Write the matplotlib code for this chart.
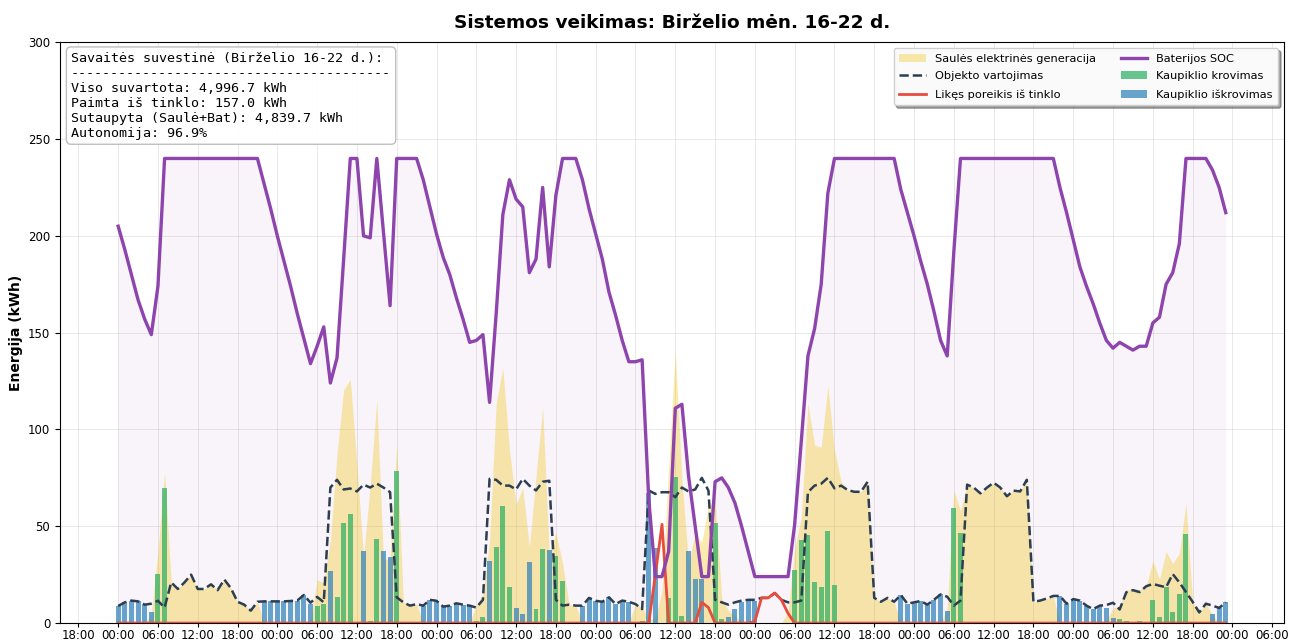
import numpy as np
import pandas as pd
import matplotlib
matplotlib.use("Agg")
import matplotlib.pyplot as plt
import matplotlib.dates as mdates
from matplotlib.patches import Patch
from matplotlib.lines import Line2D

# ---- hourly data, 16-22 June (168 hours) ----
times = pd.date_range("2025-06-16 00:00", periods=168, freq="h")

consumption = [
    # day 1
    8.8, 10.7, 11.6, 11.2, 9.5, 10.0, 11.5, 8.0, 21.0, 17.6, 21.0, 25.0,
    17.6, 17.6, 20.0, 17.0, 22.5, 18.0, 11.0, 9.5, 6.4, 11.0, 11.2, 11.2,
    # day 2
    11.2, 11.2, 11.4, 11.6, 14.5, 10.5, 13.5, 10.7, 70.0, 74.0, 69.0, 69.5,
    68.0, 71.5, 70.0, 72.0, 70.0, 67.6, 13.3, 10.7, 9.0, 9.8, 9.0, 12.0,
    # day 3
    11.5, 8.5, 9.0, 10.2, 9.5, 9.0, 8.0, 12.0, 74.5, 74.0, 71.0, 71.0,
    69.0, 74.5, 71.0, 68.5, 73.0, 73.5, 12.0, 9.0, 9.5, 9.0, 9.0, 13.0,
    # day 4
    11.5, 11.0, 13.3, 9.8, 11.6, 11.0, 9.8, 7.2, 68.5, 66.7, 67.6, 67.6,
    65.0, 70.0, 68.0, 69.0, 75.0, 68.4, 12.0, 10.7, 9.5, 10.7, 11.6, 12.0,
    # day 5
    12.0, 13.0, 13.0, 15.5, 12.0, 10.7, 10.7, 11.6, 67.6, 71.0, 72.0, 75.0,
    69.6, 71.0, 68.7, 67.8, 67.8, 73.0, 13.0, 11.0, 13.0, 11.0, 14.5, 10.0,
    # day 6
    10.7, 11.4, 9.5, 12.0, 14.8, 13.6, 9.0, 11.6, 71.5, 70.0, 67.0, 70.0,
    72.5, 70.0, 65.5, 68.4, 68.0, 74.0, 11.0, 11.6, 12.7, 14.0, 14.0, 10.0,
    # day 7
    12.4, 11.6, 9.0, 7.2, 9.0, 9.3, 10.5, 7.0, 15.9, 17.0, 16.0, 19.0,
    20.2, 19.3, 18.5, 25.3, 21.0, 16.0, 11.0, 5.5, 10.0, 9.0, 7.8, 10.7,
]

solar = [
    0, 0, 0, 0, 0, 4.5, 37.0, 78.0, 21.0, 17.6, 21.0, 25.0,
    17.6, 17.6, 20.0, 17.0, 22.5, 18.0, 11.0, 9.5, 6.4, 11.0, 0, 0,
    0, 0, 0, 0, 0, 0.7, 22.5, 20.7, 43.0, 87.3, 120.5, 125.9,
    82.0, 34.1, 71.2, 115.4, 32.6, 33.6, 92.1, 10.7, 9.0, 9.8, 0, 0,
    0, 0, 0, 0, 0, 0, 9.2, 15.0, 42.5, 113.5, 131.7, 89.4,
    61.4, 69.8, 39.3, 75.7, 111.3, 35.7, 46.8, 30.9, 9.5, 9.0, 0, 0,
    0, 0, 0, 0, 0, 0, 9.8, 8.2, 1.5, 2.7, 16.6, 80.6,
    140.6, 73.8, 31.0, 46.4, 41.7, 60.4, 63.5, 12.9, 6.5, 3.5, 0.9, 0.6,
    0, 0, 0, 0, 0, 5.7, 38.1, 54.6, 113.3, 92.0, 90.8, 122.4,
    89.4, 73.0, 68.7, 67.8, 67.8, 73.0, 13.0, 11.0, 13.0, 11.0, 0, 0,
    0, 0, 0, 0, 0, 7.6, 68.5, 58.0, 71.5, 70.0, 67.0, 70.0,
    72.5, 70.0, 65.5, 68.4, 68.0, 74.0, 11.0, 11.6, 12.7, 14.0, 0, 0,
    0, 0, 0, 0, 0, 1.3, 7.8, 9.0, 16.9, 17.8, 17.2, 19.0,
    32.1, 22.6, 36.9, 30.8, 36.0, 62.0, 11.0, 5.5, 10.0, 4.3, 0, 0,
]

charge = [
    0, 0, 0, 0, 0, 0, 25.5, 70.0, 0, 0, 0, 0,
    0, 0, 0, 0, 0, 0, 0, 0, 0, 0, 0, 0,
    0, 0, 0, 0, 0, 0, 9.0, 10.0, 0, 13.3, 51.5, 56.4,
    0, 0, 1.2, 43.4, 0, 0, 78.8, 0, 0, 0, 0, 0,
    0, 0, 0, 0, 0, 0, 1.2, 3.0, 0, 39.5, 60.7, 18.4,
    0, 0, 0, 7.2, 38.3, 0, 34.8, 21.9, 0, 0, 0, 0,
    0, 0, 0, 0, 0, 0, 0, 1.0, 0, 0, 0, 13.0,
    75.6, 3.8, 0, 0, 0, 0, 51.5, 2.2, 0, 0, 0, 0,
    0, 0, 0, 0, 0, 0, 27.4, 43.0, 45.7, 21.0, 18.8, 47.4,
    19.8, 0, 0, 0, 0, 0, 0, 0, 0, 0, 0, 0,
    0, 0, 0, 0, 0, 0, 59.5, 46.4, 0, 0, 0, 0,
    0, 0, 0, 0, 0, 0, 0, 0, 0, 0, 0, 0,
    0, 0, 0, 0, 0, 0, 0, 2.0, 1.0, 0.8, 1.2, 0,
    11.9, 3.3, 18.4, 5.5, 15.0, 46.0, 0, 0, 0, 0, 0, 0,
]

discharge = [
    8.8, 10.7, 11.6, 11.2, 9.5, 5.5, 0, 0, 0, 0, 0, 0,
    0, 0, 0, 0, 0, 0, 0, 0, 0, 0, 11.2, 11.2,
    11.2, 11.2, 11.4, 11.6, 14.5, 9.8, 0, 0, 27.0, 0, 0, 0,
    0, 37.4, 0, 0, 37.4, 34.0, 0, 0, 0, 0, 9.0, 12.0,
    11.5, 8.5, 9.0, 10.2, 9.5, 9.0, 0, 0, 32.0, 0, 0, 0,
    7.6, 4.7, 31.7, 0, 0, 37.8, 0, 0, 0, 0, 9.0, 13.0,
    11.5, 11.0, 13.3, 9.8, 11.6, 11.0, 0, 0, 67.0, 39.0, 0, 0,
    0, 0, 37.0, 22.6, 22.6, 0, 0, 0, 3.0, 7.2, 10.7, 11.4,
    11.2, 0, 0, 0, 0, 0, 0, 0, 0, 0, 0, 0,
    0, 0, 0, 0, 0, 0, 0, 0, 0, 0, 14.5, 10.0,
    10.7, 11.4, 9.5, 12.0, 14.8, 6.0, 0, 0, 0, 0, 0, 0,
    0, 0, 0, 0, 0, 0, 0, 0, 0, 0, 14.0, 10.0,
    12.2, 11.6, 9.0, 7.2, 9.0, 8.0, 2.7, 0, 0, 0, 0, 0,
    0, 0, 0, 0, 0, 0, 0, 0, 0, 4.7, 7.8, 10.7,
]

grid = [0.0] * 168
grid_hours = [81, 82, 88, 89, 96, 97, 98, 99, 100, 101]
grid_values = [25.0, 51.0, 10.7, 8.0, 0.8, 13.0, 13.0, 15.5, 12.0, 5.0]
for hh, gv in zip(grid_hours, grid_values):
    grid[hh] = gv

soc = [
    205, 193, 180, 167, 157, 149, 174, 240, 240, 240, 240, 240,
    240, 240, 240, 240, 240, 240, 240, 240, 240, 240, 227, 214,
    200, 187, 174, 160, 147, 134, 143, 153, 124, 137, 188, 240,
    240, 200, 199, 240, 202, 164, 240, 240, 240, 240, 229, 215,
    201, 189, 180, 168, 157, 145, 146, 149, 114, 160, 211, 229,
    219, 215, 181, 188, 225, 184, 221, 240, 240, 240, 229, 214,
    201, 188, 171, 159, 146, 135, 135, 136, 64, 24, 24, 37,
    111, 113, 76, 50, 24, 24, 73, 75, 70, 62, 50, 37,
    24, 24, 24, 24, 24, 24, 51, 94, 138, 152, 175, 222,
    240, 240, 240, 240, 240, 240, 240, 240, 240, 240, 224, 212,
    200, 187, 175, 161, 146, 138, 192, 240, 240, 240, 240, 240,
    240, 240, 240, 240, 240, 240, 240, 240, 240, 240, 225, 212,
    198, 184, 174, 165, 155, 146, 142, 145, 143, 141, 143, 143,
    155, 158, 175, 181, 196, 240, 240, 240, 240, 234, 225, 212,
]

summary_lines = [
    "Savaitės suvestinė (Birželio 16-22 d.):",
    "-" * 40,
    "Viso suvartota: 4,996.7 kWh",
    "Paimta iš tinklo: 157.0 kWh",
    "Sutaupyta (Saulė+Bat): 4,839.7 kWh",
    "Autonomija: 96.9%",
]

# ---- colours ----
C_SOLAR = "#f1c40f"
C_CONS = "#2c3e50"
C_GRID = "#e74c3c"
C_SOC = "#8e44ad"
C_CHG = "#27ae60"
C_DIS = "#2980b9"

fig = plt.figure(figsize=(12.91, 6.41), dpi=100)
ax = fig.add_axes([0.0465, 0.028, 0.948, 0.906])

bw = 0.75 / 24.0

ax.fill_between(times, 0, soc, color=C_SOC, alpha=0.06, linewidth=0, zorder=1)
ax.fill_between(times, 0, solar, color=C_SOLAR, alpha=0.34, linewidth=0, zorder=2)
ax.bar(times, charge, width=bw, color=C_CHG, alpha=0.7, zorder=3)
ax.bar(times, discharge, width=bw, color=C_DIS, alpha=0.7, zorder=3)
ax.plot(times, consumption, color=C_CONS, lw=1.8, ls="--", zorder=5)
ax.plot(times, grid, color=C_GRID, lw=2.0, zorder=6)
ax.plot(times, soc, color=C_SOC, lw=2.4, zorder=7)

ax.set_ylim(0, 300)
ax.set_yticks(np.arange(0, 301, 50))
ax.xaxis.set_major_locator(mdates.HourLocator(byhour=[0, 6, 12, 18]))
ax.xaxis.set_major_formatter(mdates.DateFormatter("%H:%M"))
ax.tick_params(axis="both", labelsize=8.5)
ax.tick_params(axis="x", length=3, pad=1.2)
ax.grid(True, color="#cccccc", alpha=0.5, lw=0.6)
ax.set_axisbelow(True)

ax.set_title("Sistemos veikimas: Birželio mėn. 16-22 d.", fontsize=13.3,
             fontweight="bold", pad=10)
ax.set_ylabel("Energija (kWh)", fontsize=10, fontweight="bold")

handles = [
    Patch(facecolor=C_SOLAR, alpha=0.34, label="Saulės elektrinės generacija"),
    Line2D([0], [0], color=C_CONS, lw=1.8, ls="--", label="Objekto vartojimas"),
    Line2D([0], [0], color=C_GRID, lw=2.0, label="Likęs poreikis iš tinklo"),
    Line2D([0], [0], color=C_SOC, lw=2.4, label="Baterijos SOC"),
    Patch(facecolor=C_CHG, alpha=0.7, label="Kaupiklio krovimas"),
    Patch(facecolor=C_DIS, alpha=0.7, label="Kaupiklio iškrovimas"),
]
ax.legend(handles=handles, loc="upper right", ncol=2, fontsize=8.2,
          frameon=True, shadow=True, framealpha=0.95, columnspacing=2.2,
          handlelength=2.3, labelspacing=0.68, borderpad=0.5)

ax.text(0.009, 0.984, "\n".join(summary_lines), transform=ax.transAxes,
        va="top", ha="left", family="DejaVu Sans Mono", fontsize=9.6,
        linespacing=1.2,
        bbox=dict(boxstyle="round,pad=0.35", facecolor="white",
                  edgecolor="#bbbbbb", alpha=0.95), zorder=10)

fig.savefig("out.png", dpi=100)
